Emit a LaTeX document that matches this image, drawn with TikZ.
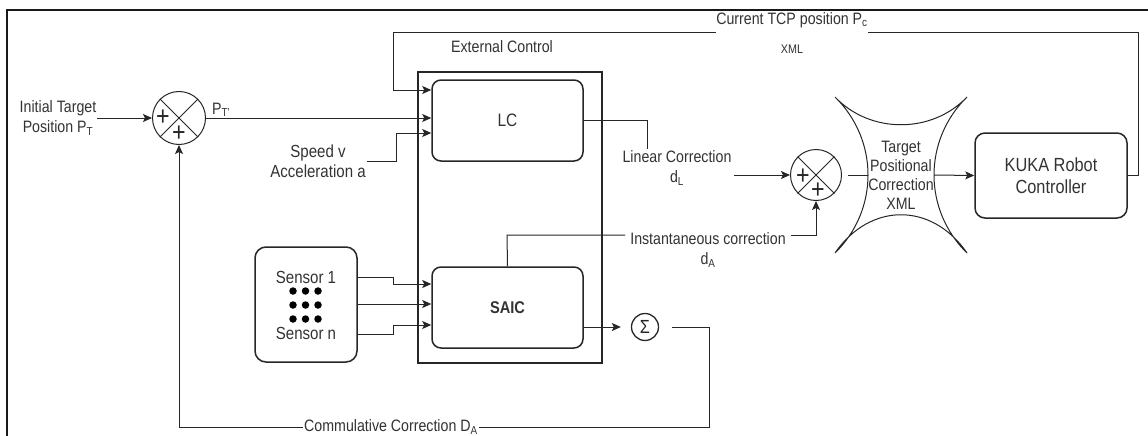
\documentclass[tikz,border=0pt]{standalone}
\usepackage{fontspec}
\setmainfont{Liberation Sans}[FakeStretch=0.86]
\usetikzlibrary{arrows.meta}
\begin{document}
\begin{tikzpicture}[x=1pt,y=-1pt,
  lbl/.style={font=\fontsize{16.5}{20}\selectfont, text=black!80, align=center, inner sep=1pt},
  blk/.style={draw=black!85, line width=1.5pt, rounded corners=9pt, inner sep=0pt, text=black!80},
  conn/.style={draw=black!85, line width=1pt},
  arr/.style={conn, -{Stealth[length=9pt,width=8pt,inset=2pt]}},
  sumc/.style={circle, draw=black!85, line width=1pt, minimum size=51pt, inner sep=0pt},
  plus/.style={font=\fontsize{27}{27}\selectfont, text=black!85, inner sep=0pt},
  dot/.style={circle, fill=black, minimum size=7.5pt, inner sep=0pt}
]
\useasboundingbox (0,0) rectangle (1148,436);
% outer frame (cropped)
\draw[black!90, line width=1.5pt] (7,436) -- (7,10) -- (1148,10);

% summing junction 1
\node[sumc, minimum size=53pt] (s1) at (179,118) {};
\draw[conn] (s1.north west) -- (s1.south east) (s1.north east) -- (s1.south west);
\node[plus] (s1pa) at (163,118) {+};
\node[plus] (s1pb) at (179,134) {+};

% summing junction 2
\node[sumc] (s2) at (816,175) {};
\draw[conn] (s2.north west) -- (s2.south east) (s2.north east) -- (s2.south west);
\node[plus] (s2pa) at (803,177) {+};
\node[plus] (s2pb) at (818,191) {+};

% sigma
\node[circle, draw=black!85, line width=1.3pt, minimum size=27pt, inner sep=0pt,
      font=\fontsize{19}{19}\selectfont, text=black!85] (sig) at (645,327) {Σ};

% External control block
\node[draw=black!85, line width=1.8pt, minimum width=184pt, minimum height=291pt, inner sep=0pt] (ext) at (510,217.5) {};
\node[lbl] (extl) at (502,47) {External Control};
\node[blk, minimum width=151pt, minimum height=81pt, font=\fontsize{18}{20}\selectfont] (lc) at (507.5,120.5) {LC};
\node[blk, minimum width=151pt, minimum height=81pt, font=\fontsize{17}{20}\selectfont\bfseries] (saic) at (507.5,307.5) {SAIC};

% sensors
\node[blk, rounded corners=11pt, minimum width=102pt, minimum height=115pt] (sens) at (306,304.5) {};
\node[lbl, font=\fontsize{17.5}{20}\selectfont] (sen1) at (306,277) {Sensor 1};
\node[lbl, font=\fontsize{17.5}{20}\selectfont] (senn) at (306,333) {Sensor n};
\foreach \i/\x in {a/293,b/305.5,c/318}{
  \foreach \j/\y in {a/291,b/305,c/319}{
    \node[dot] (d\i\j) at (\x,\y) {};
  }
}

% KUKA
\node[blk, rounded corners=10pt, minimum width=152pt, minimum height=85pt, align=center,
      font=\fontsize{19}{22}\selectfont] (kuka) at (1051,175.5) {KUKA Robot\\Controller};

% Target positional correction (concave shape)
\draw[conn] (835,97) .. controls (870,134) and (932,134) .. (967,97)
            (835,253) .. controls (870,202) and (932,202) .. (967,253)
            (835,97) .. controls (879,140) and (879,210) .. (835,253)
            (967,97) .. controls (923,140) and (923,210) .. (967,253);
\coordinate (tpl) at (868,175);
\coordinate (tpr) at (934,175);
\node[lbl, font=\fontsize{16.5}{19}\selectfont] (tpc) at (901,175) {Target\\Positional\\Correction\\XML};

% labels
\node[lbl] (init) at (58,118) {Initial Target\\Position P\textsubscript{T}};
\node[lbl, anchor=west] (ptp) at (211,110) {P\textsubscript{T'}};
\node[lbl, font=\fontsize{17.5}{20}\selectfont] (speed) at (318,161) {Speed v\\Acceleration a};
\node[lbl, inner sep=0pt] (tcp) at (792,20) {Current TCP position P\textsubscript{c}};
\node[lbl, font=\fontsize{12.5}{14}\selectfont] (xml) at (792,49) {XML};
\node[lbl, inner sep=2pt] (lin) at (677,168) {Linear Correction\\d\textsubscript{L}};
\node[lbl, inner sep=5pt] (inst) at (708,250) {Instantaneous correction\\d\textsubscript{A}};

% coordinates for bends
\coordinate (fb1) at (1138,33);
\coordinate (fb2) at (393,33);
\coordinate (fb3) at (393,90);
\coordinate (sp1) at (396,133);
\coordinate (lc1) at (647,120.5);
\coordinate (ic1) at (507,235);
\coordinate (b1) at (393,277);
\coordinate (b2) at (393,284);
\coordinate (b3) at (393,304);
\coordinate (b4) at (393,334);
\coordinate (b5) at (393,325);
\coordinate (cf1) at (709,427);

% connectors
\draw[arr] (init.east) -- (s1.west);
\draw[arr] (s1.east) -- (s1.east -| lc.west);
\draw[arr] (speed.east) -| (sp1) -- (sp1 -| lc.west);
\draw[conn] (kuka.east) -| (fb1) -- (tcp.east |- fb1);
\draw[arr] (tcp.west |- fb1) -- (fb2) -- (fb3) -- (fb3 -| lc.west);
\draw[conn] (lc.east) -- (lc1) -- (lc1 |- lin.north);
\draw[arr] (lin.east |- s2.west) -- (s2.west);
\draw[conn] (saic.north) -- (ic1) -- (ic1 -| inst.west);
\draw[arr] (ic1 -| inst.east) -| (s2.south);
\draw[arr] (b1 -| sens.east) -- (b1) -- (b2) -- (b2 -| saic.west);
\draw[arr] (b3 -| sens.east) -- (b3 -| saic.west);
\draw[arr] (b4 -| sens.east) -- (b4) -- (b5) -- (b5 -| saic.west);
\draw[arr, shorten >=10pt] (saic.east |- sig.west) -- (sig.west);
\draw[arr] ([xshift=13pt]sig.east) -| (cf1) -- (cf1 -| s1.south)
   node[lbl, pos=0.6, fill=white, inner sep=1pt] (cum) {Commulative Correction D\textsubscript{A}}
   -- (s1.south);
\draw[conn] ([xshift=6pt]s2.east) -- (tpl);
\draw[arr] (tpr) -- (kuka.west);
\end{tikzpicture}
\end{document}
